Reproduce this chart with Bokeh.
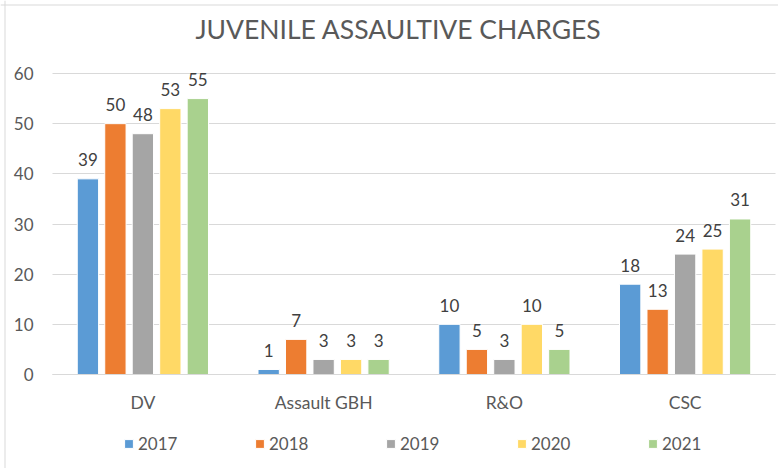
from bokeh.plotting import figure
from bokeh.models import (ColumnDataSource, Legend, LegendItem, Label, FixedTicker,
                          Range1d, Span)
from bokeh.transform import dodge
from bokeh.core.properties import value
from bokeh.embed import file_html
from bokeh.resources import INLINE

title_text = "JUVENILE ASSAULTIVE CHARGES"
categories = ["DV", "Assault GBH", "R&O", "CSC"]
years = ["2017", "2018", "2019", "2020", "2021"]
v2017 = [39, 1, 10, 18]
v2018 = [50, 7, 5, 13]
v2019 = [48, 3, 3, 24]
v2020 = [53, 3, 10, 25]
v2021 = [55, 3, 5, 31]
y_ticks = [0, 10, 20, 30, 40, 50, 60]

series = [v2017, v2018, v2019, v2020, v2021]
colors = ["#5B9BD5", "#ED7D31", "#A5A5A5", "#FFD966", "#A9D18E"]
offsets = [-0.304, -0.152, 0.0, 0.152, 0.304]
FONT = "Lato"
TXT = "#595959"
GRID = "#D9D9D9"

W, H = 778, 468
# plot area in pixels: left 52, right 775, value 60 at 73px, value 0 at 374px
PXX = (775 - 52) / len(categories)
PXY = (374 - 73) / 60.0
x_start = -52 / PXX
x_end = len(categories) + (W - 775) / PXX
y_end = 60 + 73 / PXY
y_start = -(H - 374) / PXY

cat_pos = [i + 0.5 for i in range(len(categories))]
data = {"pos": cat_pos, "cat": categories}
for yr, vals in zip(years, series):
    data["v" + yr] = vals
    data["l" + yr] = [str(v) for v in vals]
source = ColumnDataSource(data)

p = figure(width=W, height=H, x_range=Range1d(x_start, x_end), y_range=Range1d(y_start, y_end),
           output_backend="svg", toolbar_location=None,
           min_border_left=0, min_border_right=0, min_border_top=0, min_border_bottom=0)
p.outline_line_color = None
p.background_fill_color = "white"
p.border_fill_color = "white"

# gridlines (only across the plot area)
g = p.ygrid[0]
g.ticker = FixedTicker(ticks=y_ticks)
g.grid_line_color = GRID
g.grid_line_width = 1
if "cross_bounds" in g.properties():
    g.cross_bounds = (0, len(categories))
else:
    g.visible = False
    p.segment(x0=[0] * len(y_ticks), x1=[len(categories)] * len(y_ticks), y0=y_ticks, y1=y_ticks,
              line_color=GRID, line_width=1)
p.xgrid.grid_line_color = None

items = []
for yr, col, off in zip(years, colors, offsets):
    r = p.vbar(x=dodge("pos", off), top="v" + yr, width=0.118,
               source=source, fill_color=col, line_color="white", line_width=1)
    p.text(x=dodge("pos", off), y="v" + yr, text="l" + yr, source=source,
           text_align="center", text_baseline="alphabetic", y_offset=-19,
           text_font=value(FONT), text_font_size="17px", text_color="#404040")
    items.append(LegendItem(label=yr, renderers=[r]))

p.yaxis.fixed_location = 0
p.yaxis.ticker = FixedTicker(ticks=y_ticks)
p.yaxis.axis_line_color = None
p.yaxis.major_tick_line_color = None
p.yaxis.minor_tick_line_color = None
p.yaxis.major_tick_out = 0
p.yaxis.major_tick_in = 0
p.yaxis.major_label_standoff = 19
p.yaxis.major_label_text_font = FONT
p.yaxis.major_label_text_font_size = "17px"
p.yaxis.major_label_text_color = TXT

p.xaxis.fixed_location = 0
p.xaxis.bounds = (0, len(categories))
p.xaxis.ticker = FixedTicker(ticks=cat_pos)
p.xaxis.major_label_overrides = {pos: name for pos, name in zip(cat_pos, categories)}
p.xaxis.axis_line_color = GRID
p.xaxis.axis_line_width = 1
p.xaxis.major_tick_line_color = None
p.xaxis.minor_tick_line_color = None
p.xaxis.major_tick_out = 0
p.xaxis.major_tick_in = 0
p.xaxis.major_label_standoff = 17
p.xaxis.major_label_text_font = FONT
p.xaxis.major_label_text_font_size = "17.5px"
p.xaxis.major_label_text_color = TXT

# chart border (top and left edges visible in the reference)
p.add_layout(Span(location=y_end - 4.5 / PXY, dimension="width", line_color=GRID, line_width=1))
p.add_layout(Span(location=x_start + 4.5 / PXX, dimension="height", line_color=GRID, line_width=1))

legend = Legend(items=items, orientation="horizontal", location=(123, 14),
                glyph_width=11, glyph_height=11, label_standoff=4, label_width=42,
                spacing=74, padding=0, margin=0, border_line_color=None,
                background_fill_alpha=0, label_text_font=FONT,
                label_text_font_size="17px", label_text_color=TXT, label_height=18)
p.add_layout(legend, "center")

title = Label(x=398, y=H - 28, x_units="screen", y_units="screen", text=title_text,
              text_align="center", text_baseline="middle", text_font=FONT,
              text_font_size="26.5px", text_color=TXT)
p.add_layout(title)

open("out.html", "w").write(file_html(p, INLINE))
